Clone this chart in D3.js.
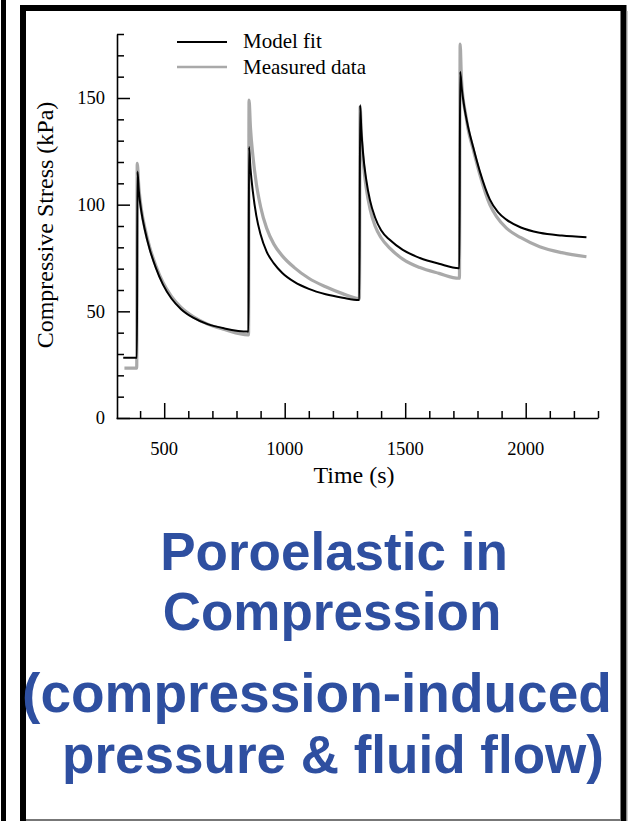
<!DOCTYPE html>
<html><head><meta charset="utf-8">
<script src="https://cdn.jsdelivr.net/npm/d3@7"></script>
<style>body{margin:0;background:#fff}svg{display:block}</style>
</head><body>
<svg id="c" width="629" height="821"></svg>
<script>
// ---- data ----
const modelT = [330, 387, 389, 395, 405, 420, 440, 465, 495, 530, 570, 620, 680, 750, 848,
  850, 852, 858, 868, 882, 900, 925, 955, 990, 1040, 1100, 1170, 1240, 1308,
  1310, 1313, 1318, 1326, 1338, 1354, 1375, 1400, 1437, 1490, 1561, 1640, 1723,
  1725, 1728, 1735, 1745, 1760, 1782, 1810, 1851, 1885, 1920, 1980, 2058, 2150, 2252];
const modelV = [28.3, 28.3, 115.5, 106, 97, 88, 79, 70.5, 62.5, 56, 51, 47, 44, 42, 40.5,
  40.5, 127, 117, 106, 95, 86, 78, 72.5, 68, 63.8, 60.5, 58, 56.4, 55.3,
  55.3, 146.7, 135, 123, 112, 102, 94, 88, 83.4, 78.8, 75, 72.3, 70.2,
  70.2, 162.3, 154, 146, 137, 127, 115.5, 102.5, 96.5, 93, 89.3, 86.8, 85.5, 84.7];
const measT = [335, 386, 388, 395, 405, 420, 440, 465, 495, 530, 570, 620, 680, 750, 848,
  850, 852, 858, 868, 882, 900, 925, 955, 990, 1040, 1100, 1170, 1240, 1308,
  1310, 1313, 1318, 1326, 1338, 1354, 1375, 1400, 1437, 1490, 1561, 1640, 1723,
  1725, 1728, 1733, 1740, 1750, 1760, 1782, 1810, 1851, 1879, 1920, 1980, 2058, 2150, 2252];
const measV = [23.4, 23.4, 119.4, 108, 98, 89, 80, 71.5, 63.5, 57, 51.8, 47.5, 44, 41.5, 39,
  39, 149, 136, 123, 110, 99, 89, 81.5, 76, 70.5, 65.5, 61.5, 58.3, 56,
  56, 146, 133, 120, 108, 98, 90, 84.5, 79.5, 74.5, 70.5, 67.8, 65.5,
  65.5, 175.3, 160, 150, 143, 136, 126, 114, 100, 94.4, 89, 84.5, 80.3, 77.5, 75.6];
const xMajorTicks = [500, 1000, 1500, 2000];
const yMajorTicks = [0, 50, 100, 150];
const legendLabels = ["Model fit", "Measured data"];
const titleLines = ["Poroelastic in", "Compression", "(compression-induced", "pressure & fluid flow)"];

// ---- drawing ----
const svg = d3.select("#c");
const serif = "'Liberation Serif','Times New Roman',serif";

// frame
svg.append("rect").attr("x", 1).attr("y", 0).attr("width", 5).attr("height", 821).attr("fill", "#000");
svg.append("line").attr("x1", 26).attr("x2", 620).attr("y1", 820).attr("y2", 820).attr("stroke", "#777").attr("stroke-width", 2);
svg.append("path").attr("d", "M23,821 L23,8 L623.5,8 L623.5,821").attr("fill", "none")
  .attr("stroke", "#000").attr("stroke-width", 6).attr("stroke-linejoin", "miter");
svg.append("line").attr("x1", 627).attr("x2", 627).attr("y1", 11).attr("y2", 821).attr("stroke", "#999").attr("stroke-width", 1);

const x = d3.scaleLinear().domain([300, 2300]).range([116, 598]);
const y = d3.scaleLinear().domain([0, 180]).range([418, 34]);

const g = svg.append("g");
// y axis
const yAx = g.append("g").attr("transform", `translate(${x(300) + 1},0)`)
  .call(d3.axisRight(y).tickValues(d3.range(0, 181, 10)).tickSize(0).tickFormat(""));
yAx.select(".domain").attr("stroke", "#000").attr("stroke-width", 1.6);
yAx.selectAll(".tick line").attr("x2", d => yMajorTicks.includes(d) ? 13 : 7).attr("stroke", "#000").attr("stroke-width", 1.5);
// x axis
const xAx = g.append("g").attr("transform", `translate(0,${y(0)})`)
  .call(d3.axisTop(x).tickValues(d3.range(400, 2301, 100)).tickSize(0).tickFormat(""));
xAx.select(".domain").attr("stroke", "#000").attr("stroke-width", 1.6);
xAx.selectAll(".tick line").attr("y2", d => xMajorTicks.includes(d) ? -15 : -7).attr("stroke", "#000").attr("stroke-width", 1.5);

// tick labels
g.selectAll(".ylab").data(yMajorTicks).join("text")
  .attr("x", 105).attr("y", d => y(d)).attr("dy", "0.35em").attr("text-anchor", "end")
  .attr("font-family", serif).attr("font-size", 18.5).text(d => d);
g.selectAll(".xlab").data(xMajorTicks).join("text")
  .attr("x", d => x(d)).attr("y", 455).attr("text-anchor", "middle")
  .attr("font-family", serif).attr("font-size", 18.5).text(d => d);

// axis titles
g.append("text").attr("x", 354).attr("y", 483).attr("text-anchor", "middle")
  .attr("font-family", serif).attr("font-size", 24).text("Time (s)");
g.append("text").attr("transform", "translate(53,225) rotate(-90)").attr("text-anchor", "middle")
  .attr("font-family", serif).attr("font-size", 24).text("Compressive Stress (kPa)");

// curves
const line = d3.line().x(d => x(d[0])).y(d => y(d[1])).curve(d3.curveMonotoneX);
const meas = d3.zip(measT, measV);
const model = d3.zip(modelT, modelV);
g.append("path").attr("d", line(meas)).attr("fill", "none").attr("stroke", "#a9a9a9").attr("stroke-width", 3.2);
g.append("path").attr("d", line(model)).attr("fill", "none").attr("stroke", "#000").attr("stroke-width", 2);

// legend
const lg = g.append("g");
lg.append("line").attr("x1", 177).attr("x2", 227).attr("y1", 42).attr("y2", 42).attr("stroke", "#000").attr("stroke-width", 1.8);
lg.append("line").attr("x1", 177).attr("x2", 227).attr("y1", 67).attr("y2", 67).attr("stroke", "#a9a9a9").attr("stroke-width", 2.5);
lg.selectAll("text").data(legendLabels).join("text")
  .attr("x", 243).attr("y", (d, i) => 48 + i * 25.5)
  .attr("font-family", serif).attr("font-size", 21).text(d => d);

// blue title
const sans = "'Liberation Sans',Arial,sans-serif";
const tY = [570, 630, 712, 773];
const tX = [334, 332, 317, 333];
const tS = [53, 53, 55, 53];
svg.selectAll(".t").data(titleLines).join("text")
  .attr("x", (d, i) => tX[i]).attr("y", (d, i) => tY[i]).attr("text-anchor", "middle")
  .attr("font-family", sans).attr("font-weight", "bold").attr("font-size", (d, i) => tS[i])
  .attr("fill", "#2E4FA0").text(d => d);
</script>
</body></html>
